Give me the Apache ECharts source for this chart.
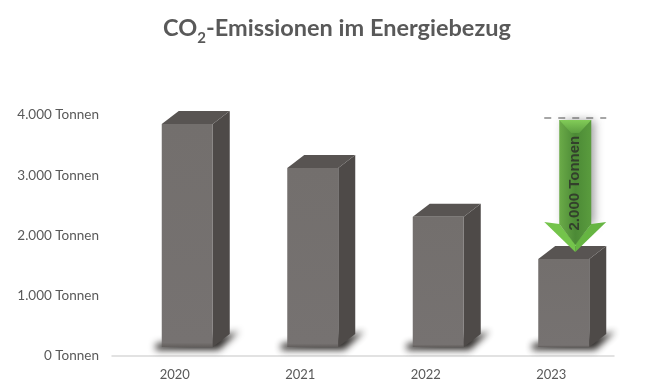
<!DOCTYPE html>
<html>
<head>
<meta charset="utf-8">
<style>
  html, body { margin: 0; padding: 0; background: #fff; }
  #chart { width: 672px; height: 392px; }
</style>
<script src="https://cdn.jsdelivr.net/npm/echarts@6/dist/echarts.min.js"></script>
</head>
<body>
<div id="chart"></div>
<script>
const years = ['2020', '2021', '2022', '2023'];
const emissions = [3850, 3120, 2310, 1610];
const tickLabelUnit = 'Tonnen';
// Pfeil: Jahr, Startwert, Endwert
const arrowYear = '2023';
const arrowFrom = 3915;
const arrowTo = 1725;
const dashLevel = 3950;
const arrowText = '2.000 Tonnen';

const FONT = 'Lato, "Open Sans", sans-serif';
const gr = echarts.graphic;

function renderBar(params, api) {
  const p = api.coord([api.value(0), api.value(1)]);
  const floorY = api.coord([0, 0])[1] - 9;
  const x0 = p[0] - 13, x1 = x0 + 51, top = p[1];
  const dx = 17, dy = -13;
  // nur der weiche Schatten soll sichtbar sein, die Form selbst liegt neben der Flaeche
  const off = 1000;
  return {
    type: 'group',
    children: [
      {
        type: 'polygon',
        shape: { points: [
          [x0 - 6 - off, floorY - 3], [x1 + dx - off, floorY + dy], [x1 + dx + 9 - off, floorY + dy - 3],
          [x1 + 6 - off, floorY + 3], [x0 - 6 - off, floorY + 3]
        ] },
        style: { fill: '#000', shadowBlur: 7, shadowOffsetX: off, shadowColor: 'rgba(35,32,30,0.95)' }
      },
      {
        type: 'polygon',
        shape: { points: [[x1, top], [x1 + dx, top + dy], [x1 + dx, floorY + dy], [x1, floorY]] },
        style: { fill: '#4e4a48' }
      },
      {
        type: 'polygon',
        shape: { points: [[x0, top], [x0 + dx, top + dy], [x1 + dx, top + dy], [x1, top]] },
        style: { fill: '#585452' }
      },
      {
        type: 'rect',
        shape: { x: x0, y: top, width: x1 - x0, height: floorY - top },
        style: {
          fill: new gr.LinearGradient(0, 0, 0, 1, [
            { offset: 0, color: '#736f6d' },
            { offset: 0.98, color: '#767271' },
            { offset: 1, color: '#625e5c' }
          ])
        }
      }
    ]
  };
}

function renderArrow(params, api) {
  const start = api.coord([api.value(0), api.value(1)]);
  const tipY = api.coord([api.value(0), api.value(2)])[1];
  const dashY = api.coord([api.value(0), api.value(3)])[1];
  const cx = start[0] + 24, topY = start[1];
  const shaft = 16, head = 31, headY = tipY - 30;
  const shaftFill = () => new gr.LinearGradient(0, 0, 1, 0, [
    { offset: 0, color: '#6bab48' },
    { offset: 0.5, color: '#4c8a36' },
    { offset: 1, color: '#5a9c3e' }
  ]);
  return {
    type: 'group',
    children: [
      {
        type: 'line',
        shape: { x1: cx - 31, y1: dashY, x2: cx + 31, y2: dashY },
        style: { stroke: '#a6a6a6', lineWidth: 2, lineDash: [7, 7] }
      },
      {
        type: 'rect',
        shape: { x: cx - shaft, y: topY, width: shaft * 2, height: headY - topY + 3 },
        style: {
          fill: shaftFill(),
          shadowBlur: 9,
          shadowOffsetX: 4,
          shadowColor: 'rgba(60,60,60,0.5)'
        }
      },
      {
        type: 'polygon',
        shape: { points: [[cx - shaft, topY], [cx + shaft, topY], [cx + 4, topY + 13], [cx - 4, topY + 13]] },
        style: {
          fill: new gr.LinearGradient(0, 0, 0, 1, [
            { offset: 0, color: '#82cc58' },
            { offset: 1, color: '#5c9e40' }
          ])
        }
      },
      {
        type: 'polygon',
        shape: { points: [[cx - head, headY], [cx, tipY], [cx, tipY - 8], [cx - shaft, headY + 2]] },
        style: { fill: '#74c44b' }
      },
      {
        type: 'polygon',
        shape: { points: [[cx + head, headY], [cx, tipY], [cx, tipY - 8], [cx + shaft, headY + 2]] },
        style: { fill: '#66b542' }
      },
      {
        type: 'polygon',
        shape: { points: [[cx - shaft, headY + 2], [cx + shaft, headY + 2], [cx, tipY - 7]] },
        style: { fill: shaftFill() }
      },
      {
        type: 'text',
        rotation: Math.PI / 2,
        x: cx,
        y: (topY + headY) / 2 + 12,
        style: {
          text: arrowText,
          fill: '#33402c',
          font: 'bold 15px "Liberation Sans", Arial, sans-serif',
          align: 'center',
          verticalAlign: 'middle'
        }
      }
    ]
  };
}

const chart = echarts.init(document.getElementById('chart'), null, { renderer: 'canvas' });
chart.setOption({
  animation: false,
  title: {
    text: 'CO{sub|2}-Emissionen im Energiebezug',
    left: 332,
    top: 6,
    textAlign: 'center',
    textStyle: {
      fontFamily: FONT,
      fontSize: 23.5,
      fontWeight: 'bold',
      color: '#595959',
      rich: {
        sub: { fontFamily: FONT, fontSize: 15, fontWeight: 'bold', color: '#595959', verticalAlign: 'bottom', padding: [20, 0, 0, 0] }
      }
    }
  },
  grid: { left: 112, right: 58, top: 115, bottom: 36 },
  xAxis: {
    type: 'category',
    data: years,
    axisLine: { lineStyle: { color: '#d9d9d9', width: 1.5 } },
    axisTick: { show: false },
    axisLabel: { color: '#595959', fontFamily: FONT, fontSize: 13, margin: 12 }
  },
  yAxis: {
    type: 'value',
    min: 0,
    max: 4000,
    interval: 1000,
    axisLine: { show: false },
    axisTick: { show: false },
    splitLine: { show: false },
    axisLabel: {
      color: '#595959',
      fontFamily: FONT,
      fontSize: 13.5,
      margin: 13,
      padding: [4, 0, 0, 0],
      formatter: v => (v === 0 ? '0' : (v / 1000) + '.000') + ' ' + tickLabelUnit
    }
  },
  series: [
    {
      type: 'custom',
      name: 'CO2-Emissionen',
      coordinateSystem: 'cartesian2d',
      renderItem: renderBar,
      encode: { x: 0, y: 1 },
      data: years.map((y, i) => [y, emissions[i]]),
      z: 2
    },
    {
      type: 'custom',
      name: 'Reduktion',
      coordinateSystem: 'cartesian2d',
      renderItem: renderArrow,
      encode: { x: 0, y: [1, 2, 3] },
      data: [[arrowYear, arrowFrom, arrowTo, dashLevel]],
      z: 3
    }
  ]
});
</script>
</body>
</html>
